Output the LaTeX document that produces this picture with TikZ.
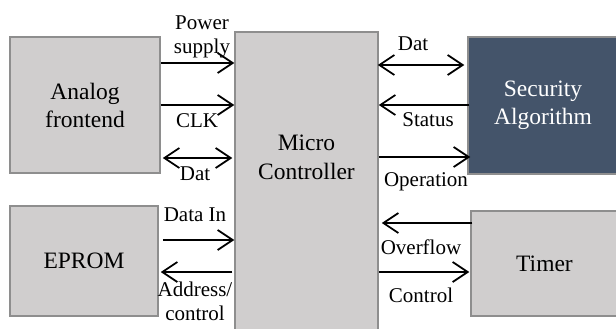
\documentclass[tikz,border=0pt]{standalone}
\usepackage{fontspec}
\setmainfont{Liberation Serif}
\usetikzlibrary{arrows.meta}
\definecolor{boxgray}{HTML}{D0CECE}
\definecolor{edgegray}{HTML}{8E8E8E}
\definecolor{secblue}{HTML}{44546A}
\begin{document}
\begin{tikzpicture}[x=1pt,y=-1pt,
  blk/.style={draw=edgegray, line width=1.5pt, fill=boxgray, inner sep=0pt, align=center,
    font=\fontsize{23.5}{28}\selectfont},
  lbl/.style={inner sep=0pt, align=center, font=\fontsize{21}{24}\selectfont},
  sig/.style={line width=1.8pt, -{Straight Barb[length=15pt,width=20pt,line width=1.8pt]}},
  bisig/.style={line width=1.8pt, {Straight Barb[length=15pt,width=20pt,line width=1.8pt]}-{Straight Barb[length=15pt,width=20pt,line width=1.8pt]}}]
\useasboundingbox (0,0) rectangle (616,329);
\fill[white] (0,0) rectangle (616,329);
% boxes
\node[blk, minimum width=150pt, minimum height=136pt] (analog) at (85,105) {Analog\\frontend};
\node[blk, minimum width=143pt, minimum height=303pt] (micro) at (306.5,183.5) {};
\node[align=center, inner sep=0pt, font=\fontsize{23.5}{29}\selectfont] (microtext) at (306.5,157) {Micro\\Controller};
\node[blk, fill=secblue, text=white, minimum width=150pt, minimum height=137pt] (sec) at (543,105.5) {Security\\Algorithm};
\node[blk, minimum width=148pt, minimum height=110pt] (eprom) at (84,261) {EPROM};
\node[blk, minimum width=147pt, minimum height=105pt] (timer) at (544.5,263.5) {Timer};
% left connectors
\draw[sig] (analog.east |- 0,63) -- (micro.west |- 0,63);
\draw[sig] (analog.east |- 0,105) -- (micro.west |- 0,105);
\draw[bisig] ([xshift=2pt]analog.east |- 0,158) -- ([xshift=-2pt]micro.west |- 0,158);
\draw[sig] ([xshift=4pt]eprom.east |- 0,240) -- (micro.west |- 0,240);
\draw[sig] ([xshift=-2pt]micro.west |- 0,272) -- ([xshift=2pt]eprom.east |- 0,272);
% right connectors
\draw[bisig] ([xshift=-1pt]micro.east |- 0,65) -- ([xshift=-3pt]sec.west |- 0,65);
\draw[sig] ([xshift=2pt]sec.west |- 0,105) -- (micro.east |- 0,105);
\draw[sig] (micro.east |- 0,157) -- ([xshift=3pt]sec.west |- 0,157);
\draw[sig] ([xshift=2pt]timer.west |- 0,223) -- ([xshift=3pt]micro.east |- 0,223);
\draw[sig] (micro.east |- 0,272) -- ([xshift=-1pt]timer.west |- 0,272);
% labels
\node[lbl] (lps) at (202,37) {Power\\supply};
\node[lbl] (lclk) at (197,121) {CLK};
\node[lbl] (ldat) at (195,174) {Dat};
\node[lbl] (ldatin) at (195,215) {Data In};
\node[lbl] (laddr) at (195,301) {Address/\\control};
\node[lbl] (ldatr) at (413,44) {Dat};
\node[lbl] (lstat) at (428,120) {Status};
\node[lbl] (lop) at (426,182) {Operation};
\node[lbl] (lover) at (421,247) {Overflow};
\node[lbl] (lctrl) at (421,295) {Control};
\end{tikzpicture}
\end{document}
